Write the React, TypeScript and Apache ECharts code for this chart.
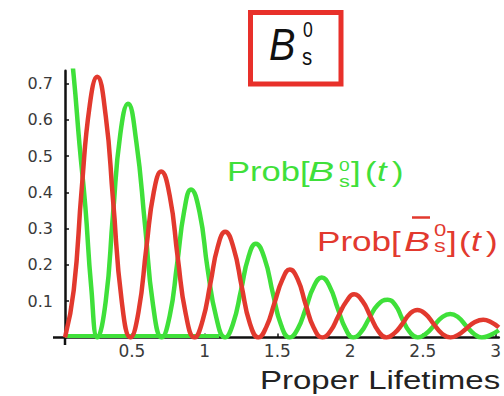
import React, { useEffect, useRef } from "react";
import * as echarts from "echarts";

// Proper lifetime (t) and probability
const redT = [
  0.04, 0.10, 0.155, 0.21, 0.261, 0.32, 0.37, 0.43, 0.49,
  0.545, 0.60, 0.65, 0.701, 0.76, 0.815, 0.87, 0.93,
  0.985, 1.04, 1.09, 1.141, 1.20, 1.255, 1.31, 1.37,
  1.425, 1.48, 1.535, 1.585, 1.64, 1.695, 1.75, 1.81,
  1.865, 1.92, 1.975, 2.027, 2.085, 2.14, 2.195, 2.25,
  2.305, 2.36, 2.41, 2.462, 2.52, 2.575, 2.63, 2.69,
  2.745, 2.80, 2.855, 2.915, 2.97, 3.022,
];
const redV = [
  0, 0.13, 0.41, 0.64, 0.718, 0.61, 0.38, 0.10, 0,
  0.07, 0.25, 0.40, 0.457, 0.39, 0.22, 0.065, 0,
  0.045, 0.15, 0.25, 0.291, 0.245, 0.14, 0.04, 0,
  0.03, 0.095, 0.16, 0.187, 0.16, 0.09, 0.027, 0,
  0.018, 0.06, 0.10, 0.119, 0.10, 0.058, 0.017, 0,
  0.012, 0.038, 0.065, 0.076, 0.064, 0.037, 0.011, 0,
  0.008, 0.025, 0.042, 0.049, 0.042, 0.028,
];
const greenT = [
  0.04, 0.10, 0.14, 0.18, 0.22, 0.263,
  0.32, 0.37, 0.42, 0.473, 0.53, 0.59, 0.645, 0.705,
  0.76, 0.81, 0.86, 0.906, 0.965, 1.02, 1.08, 1.14,
  1.195, 1.25, 1.30, 1.352, 1.41, 1.47, 1.525, 1.584,
  1.64, 1.695, 1.75, 1.805, 1.86, 1.915, 1.97, 2.022,
  2.075, 2.13, 2.19, 2.258, 2.31, 2.36, 2.41, 2.465,
  2.52, 2.575, 2.63, 2.688, 2.745, 2.80, 2.855, 2.905,
  2.96, 3.022,
];
const greenV = [
  0.95, 0.72, 0.53, 0.36, 0.14, 0,
  0.10, 0.34, 0.56, 0.644, 0.54, 0.31, 0.09, 0,
  0.06, 0.20, 0.35, 0.408, 0.345, 0.19, 0.055, 0,
  0.038, 0.13, 0.22, 0.258, 0.22, 0.12, 0.035, 0,
  0.024, 0.08, 0.14, 0.165, 0.14, 0.08, 0.023, 0,
  0.015, 0.052, 0.09, 0.104, 0.09, 0.05, 0.015, 0,
  0.01, 0.032, 0.055, 0.065, 0.055, 0.031, 0.009, 0,
  0.006, 0.02,
];
const baseT = [0.04, 1.1];
const baseV = [0.004, 0.004];

const xTicks = [0.5, 1, 1.5, 2, 2.5, 3];
const yTicks = [0.1, 0.2, 0.3, 0.4, 0.5, 0.6, 0.7];

const GREEN = "#3fe03a";
const RED = "#e2392e";
const BOXRED = "#e8302a";
const FONT = "'Liberation Sans', Arial, Helvetica, sans-serif";
const TICKFONT = "'DejaVu Sans', sans-serif";

const zip = (ts: number[], vs: number[]) => ts.map((t, i) => [t, vs[i]]);

function txt(
  text: string,
  x: number,
  baseline: number,
  size: number,
  fill: string,
  opt: { italic?: boolean; scaleX?: number } = {}
) {
  return {
    type: "text",
    x,
    y: baseline - 0.3465 * size,
    scaleX: opt.scaleX ?? 1,
    z: 10,
    style: {
      text,
      fill,
      fontSize: size,
      fontFamily: FONT,
      fontStyle: opt.italic ? "italic" : "normal",
      align: "left",
      verticalAlign: "middle",
    },
  };
}

export default function App() {
  const ref = useRef<HTMLDivElement>(null);
  useEffect(() => {
    if (!ref.current) return;
    const chart = echarts.init(ref.current, null, { renderer: "svg" });
    const gs = 1.28;
    const rs = 1.3;
    chart.setOption({
      animation: false,
      backgroundColor: "#ffffff",
      grid: { left: 65, right: 0, top: 70.7, bottom: 58.5, containLabel: false },
      xAxis: {
        type: "value",
        min: 0.04,
        max: 3.022,
        axisLine: { show: true, onZero: false, lineStyle: { color: "#111", width: 2.5 } },
        axisTick: { show: true, inside: true, length: 4, customValues: xTicks, lineStyle: { color: "#111", width: 1.5 } },
        axisLabel: { customValues: xTicks, fontSize: 17, fontFamily: TICKFONT, color: "#3a3a3a", margin: 5 },
        splitLine: { show: false },
      },
      yAxis: {
        type: "value",
        min: 0,
        max: 0.735,
        axisLine: { show: true, lineStyle: { color: "#111", width: 2.5 } },
        axisTick: { show: true, inside: true, length: 4, customValues: yTicks, lineStyle: { color: "#111", width: 1.5 } },
        axisLabel: { customValues: yTicks, fontSize: 16, fontFamily: TICKFONT, color: "#3a3a3a", margin: 12 },
        splitLine: { show: false },
      },
      series: [
        {
          name: "base",
          type: "line",
          data: zip(baseT, baseV),
          showSymbol: false,
          lineStyle: { color: GREEN, width: 4 },
          z: 2,
        },
        {
          name: "Prob[B]",
          type: "line",
          data: zip(greenT, greenV),
          smooth: 0.5,
          showSymbol: false,
          clip: true,
          lineStyle: { color: GREEN, width: 4.5 },
          z: 3,
        },
        {
          name: "Prob[Bbar]",
          type: "line",
          data: zip(redT, redV),
          smooth: 0.5,
          showSymbol: false,
          clip: true,
          lineStyle: { color: RED, width: 4.5 },
          z: 4,
        },
      ],
      graphic: [
        // axis stubs
        { type: "line", shape: { x1: 53, y1: 337.5, x2: 65, y2: 337.5 }, style: { stroke: "#111", lineWidth: 2.5 } },
        { type: "line", shape: { x1: 65, y1: 337.5, x2: 65, y2: 345 }, style: { stroke: "#111", lineWidth: 2.5 } },
        // title box
        { type: "rect", shape: { x: 250.5, y: 12.5, width: 90.5, height: 71.5 }, style: { fill: "none", stroke: BOXRED, lineWidth: 5 } },
        txt("B", 269, 60, 44, "#111", { italic: true, scaleX: 0.9 }),
        txt("0", 303, 37, 22, "#111", { scaleX: 0.8 }),
        txt("s", 302, 65.5, 24, "#111", { scaleX: 0.85 }),
        // green label
        txt("Prob[", 227, 181, 27, GREEN, { scaleX: gs }),
        txt("B", 308, 181, 27, GREEN, { italic: true, scaleX: 1.45 }),
        txt("0", 339, 170.5, 15, GREEN, { scaleX: gs }),
        txt("s", 339, 187, 17, GREEN, { scaleX: gs }),
        txt("]", 351, 181, 27, GREEN, { scaleX: gs }),
        txt("(", 365, 181, 27, GREEN, { scaleX: gs }),
        txt("t", 377, 181, 27, GREEN, { italic: true, scaleX: gs }),
        txt(")", 392, 181, 27, GREEN, { scaleX: gs }),
        // red label
        txt("Prob[", 317, 251, 27, RED, { scaleX: rs }),
        txt("B", 404, 251, 27, RED, { italic: true, scaleX: 1.45 }),
        { type: "line", shape: { x1: 412, y1: 217.5, x2: 430, y2: 217.5 }, style: { stroke: RED, lineWidth: 2.5 } },
        txt("0", 434, 236, 17, RED, { scaleX: rs }),
        txt("s", 434, 252, 18, RED, { scaleX: rs }),
        txt("]", 447, 251, 27, RED, { scaleX: rs }),
        txt("(", 459, 251, 27, RED, { scaleX: rs }),
        txt("t", 471, 251, 27, RED, { italic: true, scaleX: rs }),
        txt(")", 486, 251, 27, RED, { scaleX: rs }),
        // x axis name
        txt("Proper Lifetimes", 260, 389, 25, "#222", { scaleX: 1.32 }),
      ],
    });
    return () => chart.dispose();
  }, []);
  return (
    <div
      ref={ref}
      style={{ position: "fixed", left: 0, top: 0, width: 504, height: 396, background: "#fff" }}
    />
  );
}
